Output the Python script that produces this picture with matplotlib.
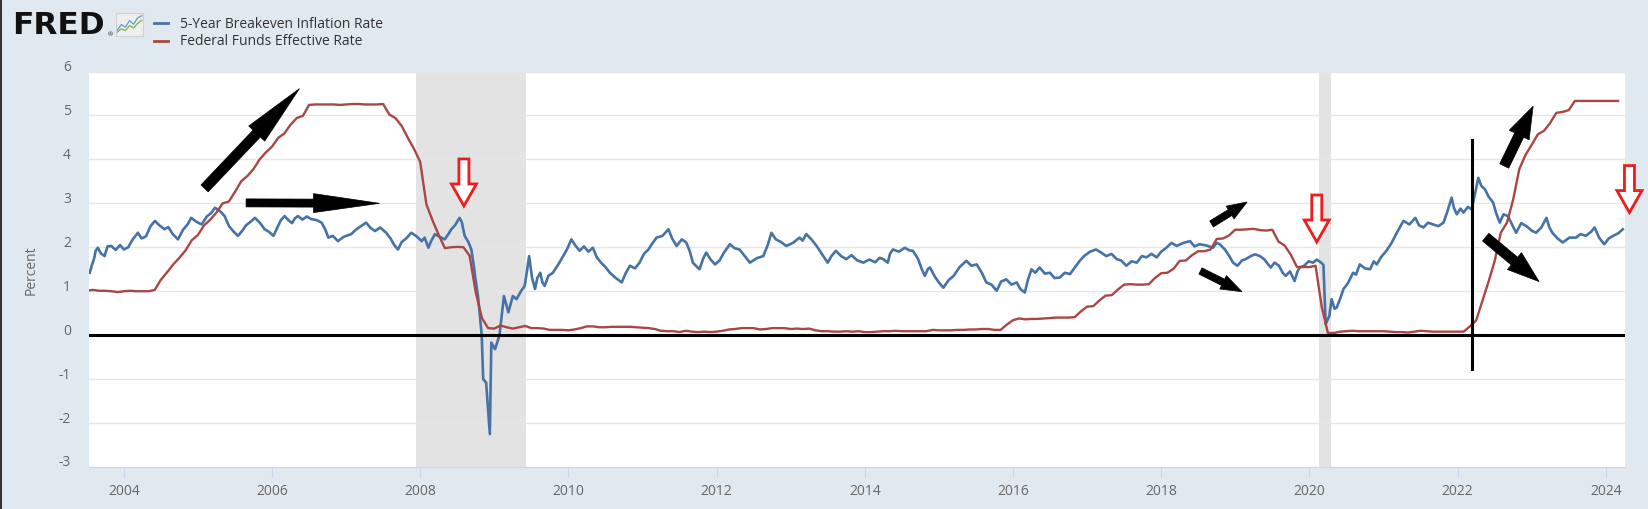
import numpy as np
import matplotlib
matplotlib.use('Agg')
import matplotlib.pyplot as plt
import matplotlib.patches as mpatches
import matplotlib.transforms as mtransforms
from matplotlib.lines import Line2D

plt.rcParams['font.family'] = ['Open Sans', 'DejaVu Sans']

W, H = 1648, 510

# Federal Funds Effective Rate, monthly, starting Jul 2003
ff_start = 2003.5
fedfunds = [
    1.01, 1.03, 1.01, 1.01, 1.00, 0.98,
    1.00, 1.01, 1.00, 1.00, 1.00, 1.03, 1.26, 1.43, 1.61, 1.76, 1.93, 2.16,
    2.28, 2.50, 2.63, 2.79, 3.00, 3.04, 3.26, 3.50, 3.62, 3.78, 4.00, 4.16,
    4.29, 4.49, 4.59, 4.79, 4.94, 4.99, 5.24, 5.25, 5.25, 5.25, 5.25, 5.24,
    5.25, 5.26, 5.26, 5.25, 5.25, 5.25, 5.26, 5.02, 4.94, 4.76, 4.49, 4.24,
    3.94, 2.98, 2.61, 2.28, 1.98, 2.00, 2.01, 2.00, 1.81, 0.97, 0.39, 0.16,
    0.15, 0.22, 0.18, 0.15, 0.18, 0.21, 0.16, 0.16, 0.15, 0.12, 0.12, 0.12,
    0.11, 0.13, 0.16, 0.20, 0.20, 0.18, 0.18, 0.19, 0.19, 0.19, 0.19, 0.18,
    0.17, 0.16, 0.14, 0.10, 0.09, 0.09, 0.07, 0.10, 0.08, 0.07, 0.08, 0.07,
    0.08, 0.10, 0.13, 0.14, 0.16, 0.16, 0.16, 0.13, 0.14, 0.16, 0.16, 0.16,
    0.14, 0.15, 0.14, 0.15, 0.11, 0.09, 0.09, 0.08, 0.08, 0.09, 0.08, 0.09,
    0.07, 0.07, 0.08, 0.09, 0.09, 0.10, 0.09, 0.09, 0.09, 0.09, 0.09, 0.12,
    0.11, 0.11, 0.11, 0.12, 0.12, 0.13, 0.13, 0.14, 0.14, 0.12, 0.12, 0.24,
    0.34, 0.38, 0.36, 0.37, 0.37, 0.38, 0.39, 0.40, 0.40, 0.40, 0.41, 0.54,
    0.65, 0.66, 0.79, 0.90, 0.91, 1.04, 1.15, 1.16, 1.15, 1.15, 1.16, 1.30,
    1.41, 1.42, 1.51, 1.69, 1.70, 1.82, 1.91, 1.91, 1.95, 2.19, 2.20, 2.27,
    2.40, 2.40, 2.41, 2.42, 2.39, 2.38, 2.40, 2.13, 2.04, 1.83, 1.55, 1.55,
    1.55, 1.58, 0.65, 0.05, 0.05, 0.08, 0.09, 0.10, 0.09, 0.09, 0.09, 0.09,
    0.09, 0.08, 0.07, 0.07, 0.06, 0.08, 0.10, 0.09, 0.08, 0.08, 0.08, 0.08,
    0.08, 0.08, 0.20, 0.33, 0.77, 1.21, 1.68, 2.33, 2.56, 3.08, 3.78, 4.10,
    4.33, 4.57, 4.65, 4.83, 5.06, 5.08, 5.12, 5.33, 5.33, 5.33, 5.33, 5.33,
    5.33, 5.33, 5.33,
]
ff_year = ff_start + np.arange(len(fedfunds)) / 12

# 5-Year Breakeven Inflation Rate
bei_year = [
    2003.54, 2003.57, 2003.60, 2003.62, 2003.65, 2003.69, 2003.74, 2003.78, 2003.83, 2003.89,
    2003.95, 2004.00, 2004.06, 2004.12, 2004.19, 2004.24, 2004.30, 2004.36, 2004.42, 2004.48,
    2004.55, 2004.60, 2004.66, 2004.73, 2004.80, 2004.86, 2004.91, 2004.98, 2005.05, 2005.12,
    2005.18, 2005.23, 2005.30, 2005.36, 2005.42, 2005.48, 2005.54, 2005.60, 2005.65, 2005.71,
    2005.77, 2005.84, 2005.90, 2005.96, 2006.02, 2006.08, 2006.12, 2006.17, 2006.22, 2006.27,
    2006.31, 2006.35, 2006.41, 2006.47, 2006.53, 2006.60, 2006.67, 2006.72, 2006.76, 2006.82,
    2006.89, 2006.97, 2007.07, 2007.13, 2007.20, 2007.27, 2007.33, 2007.39, 2007.46, 2007.54,
    2007.60, 2007.65, 2007.70, 2007.75, 2007.81, 2007.88, 2007.95, 2008.02, 2008.06, 2008.11,
    2008.15, 2008.20, 2008.26, 2008.33, 2008.38, 2008.42, 2008.47, 2008.53, 2008.56, 2008.60,
    2008.65, 2008.69, 2008.72, 2008.74, 2008.78, 2008.83, 2008.85, 2008.89, 2008.94, 2008.96,
    2009.01, 2009.07, 2009.13, 2009.19, 2009.25, 2009.30, 2009.36, 2009.41, 2009.44, 2009.47,
    2009.51, 2009.55, 2009.58, 2009.62, 2009.65, 2009.68, 2009.73, 2009.79, 2009.86, 2009.93,
    2009.98, 2010.04, 2010.09, 2010.15, 2010.21, 2010.27, 2010.33, 2010.38, 2010.44, 2010.50,
    2010.56, 2010.64, 2010.72, 2010.77, 2010.83, 2010.90, 2010.96, 2011.02, 2011.08, 2011.13,
    2011.19, 2011.27, 2011.35, 2011.40, 2011.46, 2011.53, 2011.59, 2011.64, 2011.68, 2011.72,
    2011.77, 2011.82, 2011.86, 2011.92, 2011.98, 2012.04, 2012.10, 2012.18, 2012.24, 2012.31,
    2012.38, 2012.45, 2012.54, 2012.63, 2012.69, 2012.74, 2012.80, 2012.87, 2012.94, 2013.03,
    2013.12, 2013.16, 2013.21, 2013.28, 2013.35, 2013.42, 2013.50, 2013.55, 2013.61, 2013.68,
    2013.75, 2013.82, 2013.90, 2013.98, 2014.06, 2014.14, 2014.20, 2014.25, 2014.31, 2014.34,
    2014.38, 2014.46, 2014.54, 2014.60, 2014.65, 2014.72, 2014.77, 2014.81, 2014.85, 2014.88,
    2014.95, 2015.00, 2015.06, 2015.13, 2015.20, 2015.28, 2015.37, 2015.44, 2015.51, 2015.58,
    2015.64, 2015.71, 2015.78, 2015.84, 2015.91, 2015.98, 2016.05, 2016.10, 2016.16, 2016.20,
    2016.25, 2016.30, 2016.36, 2016.43, 2016.50, 2016.56, 2016.63, 2016.70, 2016.77, 2016.84,
    2016.90, 2016.96, 2017.04, 2017.12, 2017.19, 2017.26, 2017.33, 2017.40, 2017.46, 2017.53,
    2017.60, 2017.67, 2017.74, 2017.80, 2017.87, 2017.94, 2018.00, 2018.07, 2018.14, 2018.21,
    2018.30, 2018.39, 2018.45, 2018.52, 2018.61, 2018.70, 2018.75, 2018.79, 2018.86, 2018.92,
    2018.97, 2019.03, 2019.09, 2019.14, 2019.21, 2019.27, 2019.33, 2019.39, 2019.44, 2019.48,
    2019.53, 2019.59, 2019.64, 2019.68, 2019.74, 2019.80, 2019.84, 2019.87, 2019.93, 2019.99,
    2020.05, 2020.10, 2020.16, 2020.19, 2020.22, 2020.27, 2020.30, 2020.34, 2020.37, 2020.42,
    2020.46, 2020.52, 2020.59, 2020.63, 2020.68, 2020.75, 2020.82, 2020.87, 2020.91, 2020.97,
    2021.04, 2021.11, 2021.18, 2021.22, 2021.27, 2021.35, 2021.43, 2021.48, 2021.54, 2021.60,
    2021.67, 2021.74, 2021.81, 2021.86, 2021.92, 2021.95, 2021.99, 2022.04, 2022.08, 2022.14,
    2022.19, 2022.24, 2022.28, 2022.32, 2022.37, 2022.42, 2022.48, 2022.52, 2022.57, 2022.62,
    2022.68, 2022.74, 2022.79, 2022.86, 2022.93, 2023.00, 2023.06, 2023.13, 2023.20, 2023.24,
    2023.28, 2023.35, 2023.42, 2023.51, 2023.60, 2023.66, 2023.73, 2023.80, 2023.85, 2023.91,
    2023.98, 2024.04, 2024.10, 2024.17, 2024.23,
]
bei_value = [
    1.42, 1.60, 1.75, 1.92, 1.99, 1.86, 1.80, 2.02, 2.03, 1.94,
    2.05, 1.95, 2.00, 2.18, 2.33, 2.20, 2.25, 2.48, 2.60, 2.50,
    2.41, 2.46, 2.30, 2.18, 2.40, 2.52, 2.67, 2.58, 2.52, 2.70,
    2.78, 2.90, 2.82, 2.71, 2.48, 2.36, 2.26, 2.38, 2.50, 2.58,
    2.67, 2.55, 2.41, 2.35, 2.26, 2.48, 2.62, 2.71, 2.62, 2.55,
    2.66, 2.71, 2.63, 2.70, 2.64, 2.62, 2.56, 2.40, 2.22, 2.26,
    2.14, 2.24, 2.30, 2.40, 2.48, 2.56, 2.44, 2.37, 2.45, 2.33,
    2.20, 2.05, 1.95, 2.12, 2.20, 2.33, 2.25, 2.14, 2.22, 1.99,
    2.15, 2.30, 2.24, 2.18, 2.30, 2.41, 2.50, 2.67, 2.58, 2.26,
    2.12, 1.95, 1.62, 1.35, 0.89, 0.00, -1.00, -1.08, -2.25, -0.17,
    -0.32, 0.00, 0.89, 0.52, 0.89, 0.82, 1.00, 1.12, 1.45, 1.80,
    1.30, 1.05, 1.30, 1.42, 1.20, 1.12, 1.35, 1.42, 1.60, 1.80,
    1.95, 2.18, 2.05, 1.92, 2.02, 1.90, 1.99, 1.78, 1.65, 1.55,
    1.42, 1.30, 1.20, 1.40, 1.58, 1.52, 1.65, 1.85, 1.95, 2.08,
    2.22, 2.26, 2.41, 2.20, 2.03, 2.18, 2.11, 1.90, 1.65, 1.58,
    1.50, 1.75, 1.88, 1.72, 1.61, 1.70, 1.88, 2.07, 1.98, 1.95,
    1.80, 1.65, 1.75, 1.80, 2.05, 2.33, 2.18, 2.12, 2.03, 2.10,
    2.22, 2.15, 2.30, 2.18, 2.03, 1.85, 1.65, 1.80, 1.92, 1.80,
    1.73, 1.82, 1.70, 1.65, 1.72, 1.66, 1.76, 1.73, 1.65, 1.85,
    1.95, 1.90, 1.99, 1.93, 1.92, 1.73, 1.50, 1.35, 1.50, 1.54,
    1.32, 1.20, 1.08, 1.25, 1.35, 1.55, 1.69, 1.58, 1.61, 1.42,
    1.20, 1.15, 1.01, 1.22, 1.27, 1.15, 1.20, 1.05, 0.97, 1.25,
    1.50, 1.42, 1.54, 1.40, 1.42, 1.30, 1.31, 1.42, 1.39, 1.55,
    1.69, 1.80, 1.90, 1.95, 1.88, 1.80, 1.85, 1.73, 1.70, 1.58,
    1.68, 1.65, 1.80, 1.77, 1.85, 1.77, 1.90, 1.99, 2.10, 2.03,
    2.10, 2.14, 2.02, 2.07, 2.04, 1.99, 2.10, 2.07, 1.95, 1.80,
    1.65, 1.58, 1.70, 1.73, 1.80, 1.84, 1.80, 1.73, 1.62, 1.54,
    1.65, 1.58, 1.42, 1.35, 1.45, 1.23, 1.45, 1.54, 1.58, 1.68,
    1.65, 1.72, 1.65, 1.60, 0.25, 0.44, 0.82, 0.60, 0.63, 0.85,
    1.05, 1.18, 1.42, 1.38, 1.61, 1.52, 1.50, 1.68, 1.61, 1.78,
    1.92, 2.10, 2.33, 2.45, 2.60, 2.52, 2.67, 2.50, 2.45, 2.56,
    2.52, 2.48, 2.56, 2.80, 3.13, 2.90, 2.75, 2.88, 2.79, 2.92,
    2.86, 3.25, 3.58, 3.40, 3.32, 3.15, 3.02, 2.78, 2.56, 2.75,
    2.71, 2.50, 2.33, 2.55, 2.48, 2.38, 2.33, 2.45, 2.67, 2.45,
    2.33, 2.20, 2.11, 2.22, 2.22, 2.30, 2.26, 2.35, 2.45, 2.22,
    2.07, 2.20, 2.26, 2.32, 2.41,
]

recessions = [(2007.94, 2009.43), (2020.13, 2020.29)]
x_ticks = list(range(2004, 2025, 2))
y_ticks = list(range(-3, 7))

# hand-drawn overlay: black arrows (tail, tip) in (year, percent) + shaft/head sizes in px
black_arrows = [
    ((2005.09, 3.34), (2006.37, 5.61), 10, 22, 62),
    ((2005.65, 3.01), (2007.45, 3.00), 8, 19, 66),
    ((2018.68, 2.53), (2019.16, 3.03), 7, 15, 20),
    ((2018.53, 1.46), (2019.09, 0.99), 7, 15, 21),
    ((2022.63, 3.85), (2023.02, 5.21), 10, 22, 32),
    ((2022.38, 2.23), (2023.10, 1.22), 10, 22, 32),
]
red_arrows = [(2008.59, 2.94), (2020.10, 2.12), (2024.32, 2.79)]
vline_year, vline_lo, vline_hi = 2022.20, -0.76, 4.44

fig = plt.figure(figsize=(W / 100, H / 100), dpi=100, facecolor='#e1e9f0')
ax = fig.add_axes([89 / W, 42 / H, (1625 - 89) / W, (468 - 72.5) / H])
ax.set_facecolor('white')

for a, b in recessions:
    ax.axvspan(a, b, color='#e3e3e3', lw=0, zorder=0)

ax.plot(bei_year, bei_value, color='#4572a7', lw=1.9, zorder=3)
ax.plot(ff_year, fedfunds, color='#aa4643', lw=1.7, zorder=3)

ax.set_xlim(2003.53, 2024.26)
ax.set_ylim(-3, 6)
ax.set_xticks(x_ticks)
ax.set_xticklabels([str(t) for t in x_ticks])
ax.set_yticks(y_ticks)
ax.set_yticklabels([str(t) for t in y_ticks])
ax.grid(axis='y', color='#e6e6e6', lw=1)
ax.set_axisbelow(True)
for s in ['top', 'right', 'left']:
    ax.spines[s].set_visible(False)
ax.spines['bottom'].set_color('#ccd6eb')
ax.tick_params(axis='x', length=10 * 0.72, color='#ccd6eb', pad=4.5,
               labelsize=10, labelcolor='#666666')
ax.tick_params(axis='y', length=0, pad=13, labelsize=10, labelcolor='#666666')
off = mtransforms.ScaledTranslation(0, 7 / 100, fig.dpi_scale_trans)
for lab in ax.get_yticklabels():
    lab.set_transform(lab.get_transform() + off)
ax.set_ylabel('Percent', fontsize=10, color='#666666', labelpad=14)

ax.axhline(0, color='black', lw=2.2, zorder=5)
ax.plot([vline_year, vline_year], [vline_lo, vline_hi], color='black', lw=2.2, zorder=6)


def arrow_poly(p0, p1, shaft, head_w, head_len):
    p0 = np.asarray(p0, float)
    p1 = np.asarray(p1, float)
    u = (p1 - p0) / np.hypot(*(p1 - p0))
    n = np.array([-u[1], u[0]])
    base = p1 - u * head_len
    return [p0 + n * shaft / 2, base + n * shaft / 2, base + n * head_w / 2, p1,
            base - n * head_w / 2, base - n * shaft / 2, p0 - n * shaft / 2]


for tail, tip, sw, hw, hl in black_arrows:
    p0 = ax.transData.transform(tail)
    p1 = ax.transData.transform(tip)
    fig.add_artist(mpatches.Polygon(arrow_poly(p0, p1, sw, hw, hl), closed=True,
                                    transform=mtransforms.IdentityTransform(),
                                    facecolor='black', edgecolor='black', lw=0.5, zorder=7))

for tip in red_arrows:
    p1 = ax.transData.transform(tip)
    p0 = p1 + np.array([0, 47])
    fig.add_artist(mpatches.Polygon(arrow_poly(p0, p1, 10, 25, 22), closed=True,
                                    transform=mtransforms.IdentityTransform(),
                                    facecolor='white', edgecolor='#ee1c1c', lw=2.0, zorder=8))

# FRED logo + legend
fig.text(12 / W, 1 - 25.5 / H, 'FRED', fontsize=22.5, fontweight='bold', color='#111111',
         va='center', ha='left', family='DejaVu Sans')
fig.text(107.5 / W, 1 - 35 / H, '®', fontsize=4.5, color='#111111', va='center')
icon = fig.add_axes([116 / W, 1 - 37 / H, 27 / W, 23 / H])
icon.set_facecolor('#eeeeee')
icon.set_xticks([])
icon.set_yticks([])
for s in icon.spines.values():
    s.set_color('#d0d0d0')
icon.plot([0, 1, 2, 3, 4, 5, 6], [1, 2.5, 1.8, 3.5, 2.6, 4.2, 4.8], color='#5a9fd6', lw=0.9)
icon.plot([0, 1, 2, 3, 4, 5, 6], [0.5, 1.4, 0.9, 2.2, 1.6, 2.8, 3.6], color='#7cb342', lw=0.9)
icon.set_xlim(-0.3, 6.3)
icon.set_ylim(-0.5, 5.5)

legend_items = [('5-Year Breakeven Inflation Rate', '#4572a7', 24),
                ('Federal Funds Effective Rate', '#aa4643', 41.5)]
for label, col, ypx in legend_items:
    fig.add_artist(Line2D([154 / W, 168 / W], [1 - ypx / H, 1 - ypx / H],
                          color=col, lw=2, transform=fig.transFigure))
    fig.text(180 / W, 1 - ypx / H, label, fontsize=10, color='#333333', va='center')

fig.add_artist(mpatches.Rectangle((0, 0), 2 / W, 1, transform=fig.transFigure,
                                  color='#333333', lw=0))

fig.savefig('out.png', dpi=100, facecolor=fig.get_facecolor())
